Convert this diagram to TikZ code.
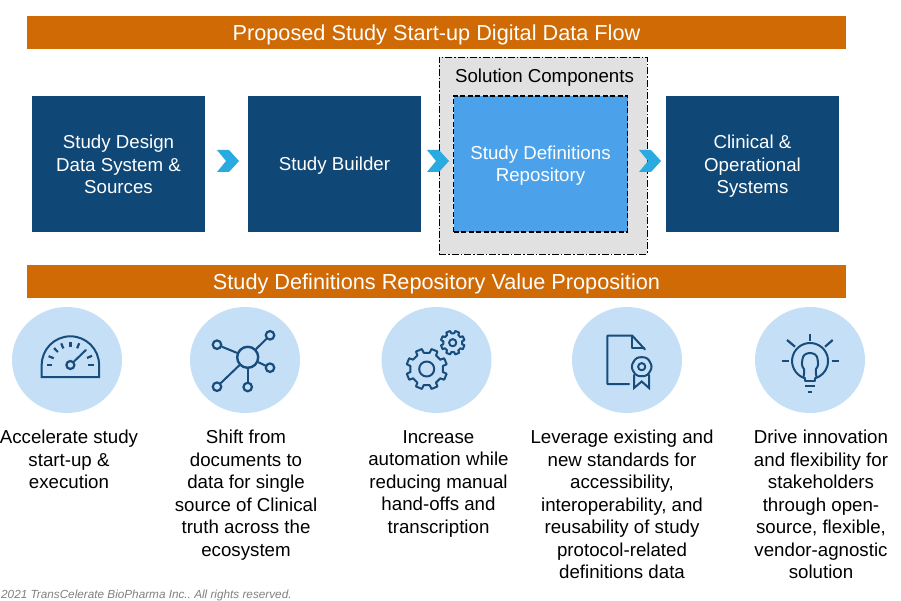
\documentclass[tikz,border=0pt]{standalone}
\usepackage{fontspec}
\setmainfont{Liberation Sans}
\definecolor{navy}{HTML}{0F4777}
\definecolor{orangebar}{HTML}{D06A05}
\definecolor{midblue}{HTML}{4BA2EA}
\definecolor{pale}{HTML}{C5E0F6}
\definecolor{graybox}{HTML}{E1E1E1}
\definecolor{chev}{HTML}{29ABE2}
\definecolor{icon}{HTML}{174C7C}
\newcommand{\chevat}[1]{\fill[chev,shift={(#1,0)}] (0,150) -- (12,150) -- (22,161) -- (12,172) -- (0,172) -- (9,161) -- cycle;}
\newcommand{\dropped}[2][3pt]{\raisebox{-#1}[\height][\depth]{\begin{tabular}{@{}c@{}}#2\end{tabular}}}
\newcommand{\gearicon}[7]{% cx cy rin rout teeth halfwidthOut halfwidthIn
  \foreach \k in {1,...,#5}{
    \pgfmathsetmacro{\a}{(\k-1)*360/#5+22.5}
    \pgfmathsetmacro{\b}{\a+360/#5}
    \draw[iconline,shift={(#1,#2)}] (\a-#7:#3) -- (\a-#6:#4) -- (\a+#6:#4) -- (\a+#7:#3) to[bend left=14] (\b-#7:#3);
  }}
\begin{document}
\begin{tikzpicture}[x=1pt,y=-1pt,
  bar/.style={fill=orangebar,minimum width=819pt,minimum height=33pt,inner sep=0,text=white,font=\fontsize{21.7}{26}\selectfont},
  flowbox/.style={fill=navy,minimum width=173pt,minimum height=136pt,inner sep=0,text=white,font=\fontsize{18.7}{22.5}\selectfont},
  caption/.style={anchor=north,inner sep=0,align=center,font=\fontsize{18.7}{22.5}\selectfont},
  iconline/.style={draw=icon,line width=2pt,line cap=round,line join=round},
  ring/.style={circle,draw=icon,line width=2.2pt,inner sep=0}]
\useasboundingbox (0,0) rectangle (901,601);
\node[bar] (head1) at (436.5,32.5) {\dropped{Proposed Study Start-up Digital Data Flow}};
\node[bar] (head2) at (436.5,281.5) {\dropped{Study Definitions Repository Value Proposition}};
\node[flowbox] (src) at (118.5,164) {\dropped{Study Design\\Data System \&\\Sources}};
\node[flowbox] (builder) at (334.5,164) {\dropped[2pt]{Study Builder}};
\node[draw=black,fill=graybox,line width=0.9pt,dash pattern=on 7pt off 2pt on 1.5pt off 2pt,minimum width=208pt,minimum height=197pt,inner sep=0] (sol) at (543,155.5) {};
\node[font=\fontsize{18.7}{22.5}\selectfont,inner sep=0] (solt) at (544.5,75) {\dropped{Solution Components}};
\node[draw=black,fill=midblue,line width=1.7pt,dash pattern=on 5pt off 2.5pt,minimum width=174pt,minimum height=136pt,inner sep=0,text=white,font=\fontsize{18.7}{22.5}\selectfont] (sdr) at (540.5,164) {\dropped[2pt]{Study Definitions\\Repository}};
\node[flowbox] (clin) at (752.5,164) {\dropped{Clinical \&\\Operational\\Systems}};
\chevat{217}\chevat{427}\chevat{639}
% halos
\foreach \n/\cx in {c1/67,c2/245,c3/436.5,c4/627,c5/810}{
  \fill[pale] (\cx,360) ellipse [x radius=55,y radius=53];
  \coordinate (\n) at (\cx,360);
}
% captions
\node[caption] (t1) at (69,430) {Accelerate study\\start-up \&\\execution};
\node[caption] (t2) at (246,430) {Shift from\\documents to\\data for single\\source of Clinical\\truth across the\\ecosystem};
\node[caption] (t3) at (438.5,430) {Increase\\automation while\\reducing manual\\hand-offs and\\transcription};
\node[caption] (t4) at (622,430) {Leverage existing and\\new standards for\\accessibility,\\interoperability, and\\reusability of study\\protocol-related\\definitions data};
\node[caption] (t5) at (821,430) {Drive innovation\\and flexibility for\\stakeholders\\through open-\\source, flexible,\\vendor-agnostic\\solution};
\node[anchor=base west,inner sep=0,text=gray,font=\fontsize{11.75}{14}\selectfont\itshape\frenchspacing] (copy) at (1,598.4) {2021 TransCelerate BioPharma Inc.. All rights reserved.};
% gauge icon
\draw[iconline,line join=miter,line cap=butt] (41.7,377) -- (41.7,365) arc[start angle=180,end angle=360,radius=28.7] -- (99.1,377) -- cycle;
\begin{scope}[shift={(70.4,365)}]
  \foreach \a in {0,23,68,90,113,134,158,180}{
    \draw[iconline,line width=2.2pt,line cap=butt,x=1pt,y=1pt] (\a:18) -- (\a:23.5);
  }
  \node[ring,minimum size=8pt] (hub) at (0,0) {};
  \coordinate (needle) at (15.5,-15);
  \draw[iconline] (hub) -- (needle);
\end{scope}
% network icon
\node[ring,minimum size=21pt,line width=2.4pt] (n0) at (247.7,357.3) {};
\node[ring,minimum size=8.5pt] (n1) at (217,344.7) {};
\node[ring,minimum size=8.5pt] (n2) at (270,335.3) {};
\node[ring,minimum size=8.5pt] (n3) at (270,367.7) {};
\node[ring,minimum size=8.5pt] (n4) at (217,386.7) {};
\node[ring,minimum size=8.5pt] (n5) at (247.7,387) {};
\foreach \m in {n1,n2,n3,n4,n5}{\draw[iconline] (n0) -- (\m);}
% gears
\gearicon{426.7}{369}{16.5}{20.5}{8}{9}{12}
\draw[iconline] (426.7,369) circle[radius=7.5];
\gearicon{452.7}{342.7}{9.5}{12}{8}{10}{14}
\draw[iconline] (452.7,342.7) circle[radius=3.6];
% document icon
\draw[iconline] (629,384) -- (607.3,384) -- (607.3,335.7) -- (632.3,335.7) -- (645,349.5);
\draw[iconline] (632.3,335.7) -- (632.3,347.5) -- (644,347.5);
\foreach \k in {1,...,6}{
  \pgfmathsetmacro{\a}{(\k-1)*60+30}
  \pgfmathsetmacro{\b}{\a+60}
  \draw[iconline,shift={(641.7,366.7)}] (\a:9.5) to[bend left=35] (\b:9.5);
}
\draw[iconline] (641.7,366.7) circle[radius=3.6];
\draw[iconline,line join=miter] (634,375) -- (634,388) -- (641.7,381.5) -- (649,388) -- (649,375);
% bulb icon
\draw[iconline] (804.8,378.2) arc[start angle=107,end angle=433,radius=18];
\draw[iconline] (804.8,378.2) -- (804.8,380.5) -- (815.2,380.5) -- (815.2,378.2);
\draw[iconline] (803.5,377.5) .. controls (804,374) and (804.5,371) .. (804,369) .. controls (801,366) and (802,362) .. (802.5,359) .. controls (803,351) and (817,351) .. (817.5,359) .. controls (818,362) and (819,366) .. (816,369) .. controls (815.5,371) and (816,374) .. (816.5,377.5);
\draw[iconline,line width=2.2pt,line cap=butt] (810,334) -- (810,340.5);
\draw[iconline,line width=2.2pt,line cap=butt] (787,340) -- (795,346.7);
\draw[iconline,line width=2.2pt,line cap=butt] (832.7,340) -- (825,346.7);
\draw[iconline,line width=2.2pt,line cap=butt] (781.5,361.3) -- (788.5,361.3);
\draw[iconline,line width=2.2pt,line cap=butt] (831.5,361.3) -- (838.5,361.3);
\draw[iconline,line width=2.2pt,line cap=butt] (805,386) -- (815,386);
\draw[iconline,line width=2.2pt,line cap=butt] (807.7,391.7) -- (812.3,391.7);
\end{tikzpicture}
\end{document}
